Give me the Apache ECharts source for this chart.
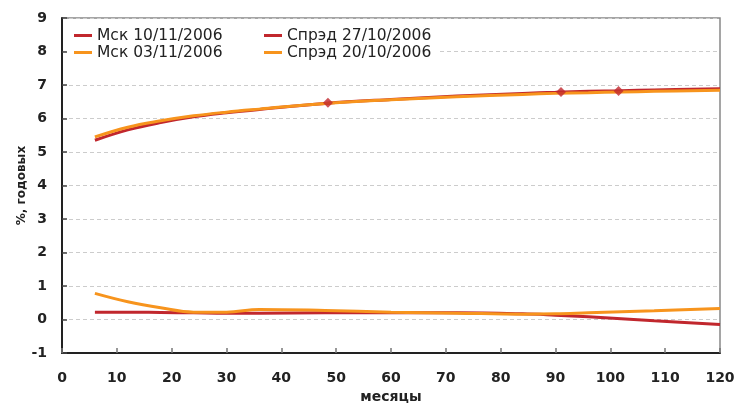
<!DOCTYPE html>
<html>
<head>
<meta charset="utf-8">
<script src="https://cdn.jsdelivr.net/npm/echarts@6/dist/echarts.min.js"></script>
<style>
  html, body { margin: 0; padding: 0; background: #fff; }
  #chart { width: 735px; height: 403px; }
</style>
</head>
<body>
<div id="chart"></div>
<script>
// кривые доходности и спреды, % годовых
var months = [6, 12, 18, 24, 30, 36, 48, 60, 72, 84, 90, 96, 102, 108, 120];
var mskNov10 = [5.35, 5.66, 5.88, 6.05, 6.17, 6.27, 6.45, 6.57, 6.67, 6.75, 6.78, 6.81, 6.83, 6.85, 6.89];
var mskNov03 = [5.45, 5.74, 5.93, 6.08, 6.19, 6.28, 6.45, 6.56, 6.65, 6.72, 6.75, 6.77, 6.79, 6.81, 6.84];
var spreadOct27 = [0.22, 0.22, 0.21, 0.2, 0.19, 0.19, 0.2, 0.2, 0.2, 0.17, 0.13, 0.08, 0.02, -0.04, -0.15];
var spreadOct20 = [0.78, 0.53, 0.35, 0.22, 0.22, 0.3, 0.27, 0.22, 0.19, 0.16, 0.17, 0.2, 0.23, 0.26, 0.33];
// отдельные выпуски на кривой 10/11
var bondMonths = [48.5, 91, 101.5];
var bondYields = [6.47, 6.79, 6.82];

var red = "#C1272D";
var orange = "#F7941D";
var font = "DejaVu Sans";

function pairs(xs, ys) {
  return xs.map(function (x, i) { return [x, ys[i]]; });
}

var chart = echarts.init(document.getElementById("chart"));

function lineSeries(name, color, values) {
  return {
    name: name,
    type: "line",
    smooth: 0.4,
    showSymbol: false,
    symbol: "none",
    data: pairs(months, values),
    lineStyle: { color: color, width: 3 },
    itemStyle: { color: color },
    z: 3
  };
}

var legendText = { fontFamily: font, fontSize: 15.5, color: "#222", lineHeight: 17 };

var option = {
  animation: false,
  textStyle: { fontFamily: font },
  grid: {
    left: 62, right: 15, top: 18, bottom: 50,
    outerBoundsMode: "none",
    show: true, borderColor: "#888", borderWidth: 1.5
  },
  legend: [
    {
      orient: "vertical", left: 67, top: 25,
      data: ["Мск 10/11/2006", "Мск 03/11/2006"],
      icon: "rect", itemWidth: 18, itemHeight: 3, itemGap: 0,
      textStyle: legendText,
      backgroundColor: "#fff", padding: [2, 40, 2, 7]
    },
    {
      orient: "vertical", left: 260, top: 25,
      data: ["Спрэд 27/10/2006", "Спрэд 20/10/2006"],
      icon: "rect", itemWidth: 18, itemHeight: 3, itemGap: 0,
      textStyle: legendText,
      backgroundColor: "#fff", padding: [2, 8, 2, 4]
    }
  ],
  xAxis: {
    type: "value", min: 0, max: 120, interval: 10,
    name: "месяцы", nameLocation: "middle", nameGap: 37,
    nameTextStyle: { fontFamily: font, fontSize: 14, fontWeight: "bold", color: "#222" },
    axisLine: { onZero: false, lineStyle: { color: "#222", width: 2 } },
    axisTick: { inside: true, length: 5, lineStyle: { color: "#777", width: 1.5 } },
    axisLabel: { margin: 18, fontFamily: font, fontSize: 14, fontWeight: "bold", color: "#222" },
    splitLine: { show: false }
  },
  yAxis: {
    type: "value", min: -1, max: 9, interval: 1,
    name: "%, годовых", nameLocation: "middle", nameGap: 34, nameMoveOverlap: false,
    nameTextStyle: { fontFamily: font, fontSize: 12, fontWeight: "bold", color: "#222" },
    axisLine: { show: true, onZero: false, lineStyle: { color: "#222", width: 2 } },
    axisTick: { show: true, inside: true, length: 5, lineStyle: { color: "#444", width: 1.5 } },
    axisLabel: { margin: 15, fontFamily: font, fontSize: 14, fontWeight: "bold", color: "#222" },
    splitLine: { show: true, lineStyle: { color: "#ccc", type: [4, 3], width: 1 } }
  },
  series: [
    lineSeries("Мск 10/11/2006", red, mskNov10),
    lineSeries("Мск 03/11/2006", orange, mskNov03),
    Object.assign(lineSeries("Спрэд 27/10/2006", red, spreadOct27), {
      markLine: {
        silent: true, symbol: "none", label: { show: false },
        lineStyle: { color: "#555", width: 1.5, type: "solid" },
        data: [[{ coord: [0, 0] }, { coord: [120.6, 0] }]],
        z: 1
      }
    }),
    lineSeries("Спрэд 20/10/2006", orange, spreadOct20),
    {
      name: "bonds",
      type: "scatter",
      symbol: "diamond",
      symbolSize: 10,
      data: pairs(bondMonths, bondYields),
      itemStyle: { color: red },
      z: 4
    }
  ]
};

chart.setOption(option);
</script>
</body>
</html>
